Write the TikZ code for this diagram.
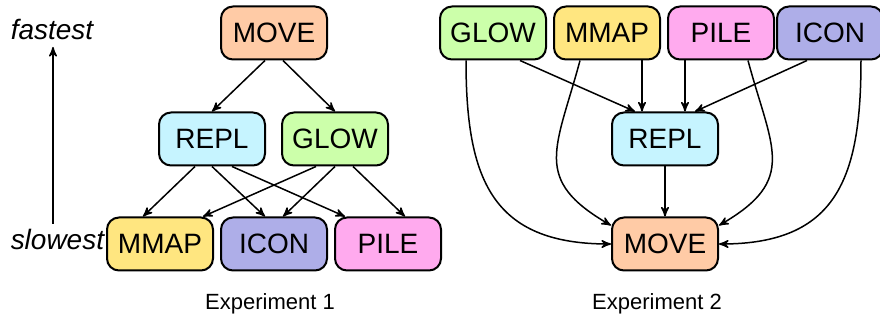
\documentclass[tikz,border=0pt]{standalone}
\usepackage{fontspec}
\setmainfont{Liberation Sans}
\usepackage{tikz}
\usetikzlibrary{arrows}
\tikzset{
     opt/.style={fill=#1, draw, line width=1pt, rounded corners=6pt,
       minimum width=53pt, minimum height=26.5pt, inner sep=0pt,
       font=\fontsize{14}{16}\selectfont},
     optmove/.style={opt=movec},
     optrepl/.style={opt=replc},
     optglow/.style={opt=glowc},
     optmmap/.style={opt=mmapc},
     opticon/.style={opt=iconc},
     optpile/.style={opt=pilec},
}
\definecolor{movec}{HTML}{FFCBA6}
\definecolor{replc}{HTML}{C6F4FF}
\definecolor{glowc}{HTML}{CCFFAA}
\definecolor{mmapc}{HTML}{FFE680}
\definecolor{iconc}{HTML}{AEAEE8}
\definecolor{pilec}{HTML}{FFAAEE}
\tikzset{>=stealth'}
\def\ux{0.5pt}
\def\uy{-0.5pt}

\begin{document}
\begin{tikzpicture}[x=\ux,y=\uy, line width=0.75pt]
		\useasboundingbox (0,0) rectangle (880,320);
		\tikzstyle{lbl}=[font=\fontsize{14}{16}\selectfont\itshape, inner sep=0pt];
		\tikzstyle{expcap}=[font=\fontsize{11}{13}\selectfont, inner sep=0pt];

		% Experiment 1
		\node[lbl, anchor=base west] (fastest) at (10,40) {fastest};
		\node[lbl, anchor=base west] (slowest) at (10,250) {slowest};
		\coordinate (speedlo) at (53,224);
		\coordinate (speedhi) at (53,47);
		\draw[->] (speedlo) -- (speedhi);

		\node[optmove] (move1) at (274,33) {MOVE};
		\node[optrepl] (repl1) at (212,139) {REPL};
		\node[optglow] (glow1) at (335,139) {GLOW};
		\node[optmmap] (mmap1) at (160,244) {MMAP};
		\node[opticon] (icon1) at (274,244) {ICON};
		\node[optpile] (pile1) at (388,244) {PILE};
		\node[expcap, anchor=base] (exp1) at (270,310) {Experiment 1};

		\draw[->] ([xshift=-4.5pt]move1.south) -- (repl1.north);
		\draw[->] ([xshift=4.5pt]move1.south) -- (glow1.north);
		\draw[->] ([xshift=-8.5pt]repl1.south) -- ([xshift=-8.5pt]mmap1.north);
		\draw[->] (repl1.south) -- ([xshift=-4.5pt]icon1.north);
		\draw[->] ([xshift=10pt]repl1.south) -- ([xshift=-21.5pt]pile1.north);
		\draw[->] ([xshift=-9.5pt]glow1.south) -- ([xshift=21.5pt]mmap1.north);
		\draw[->] (glow1.south) -- ([xshift=4.5pt]icon1.north);
		\draw[->] ([xshift=9pt]glow1.south) -- ([xshift=8.5pt]pile1.north);

		% Experiment 2
		\node[optglow] (glow2) at (493,33) {GLOW};
		\node[optmmap] (mmap2) at (607,33) {MMAP};
		\node[optpile] (pile2) at (721,33) {PILE};
		\node[opticon] (icon2) at (830,33) {ICON};
		\node[optrepl] (repl2) at (665,139) {REPL};
		\node[optmove] (move2) at (665,244) {MOVE};
		\node[expcap, anchor=base] (exp2) at (657,310) {Experiment 2};

		\draw[->] ([xshift=13.5pt]glow2.south) -- ([xshift=-15pt]repl2.north);
		\draw[->] ([xshift=17.5pt]mmap2.south) -- ([xshift=-11.5pt]repl2.north);
		\draw[->] ([xshift=-18pt]pile2.south) -- ([xshift=10pt]repl2.north);
		\draw[->] ([xshift=-11.5pt]icon2.south) -- ([xshift=15pt]repl2.north);
		\draw[->] (repl2) -- (move2);
		\draw[->] ([xshift=-13.5pt]glow2.south) to[out=-90, in=180, looseness=1.3] (move2.west);
		\draw[->] ([xshift=-13.5pt]mmap2.south) to[out=-105, in=150, looseness=1.4] (move2.161);
		\draw[->] ([xshift=13.5pt]pile2.south) to[out=-75, in=30, looseness=1.4] (move2.19);
		\draw[->] ([xshift=15.5pt]icon2.south) to[out=-90, in=0, looseness=1.3] (move2.east);
\end{tikzpicture}
\end{document}
